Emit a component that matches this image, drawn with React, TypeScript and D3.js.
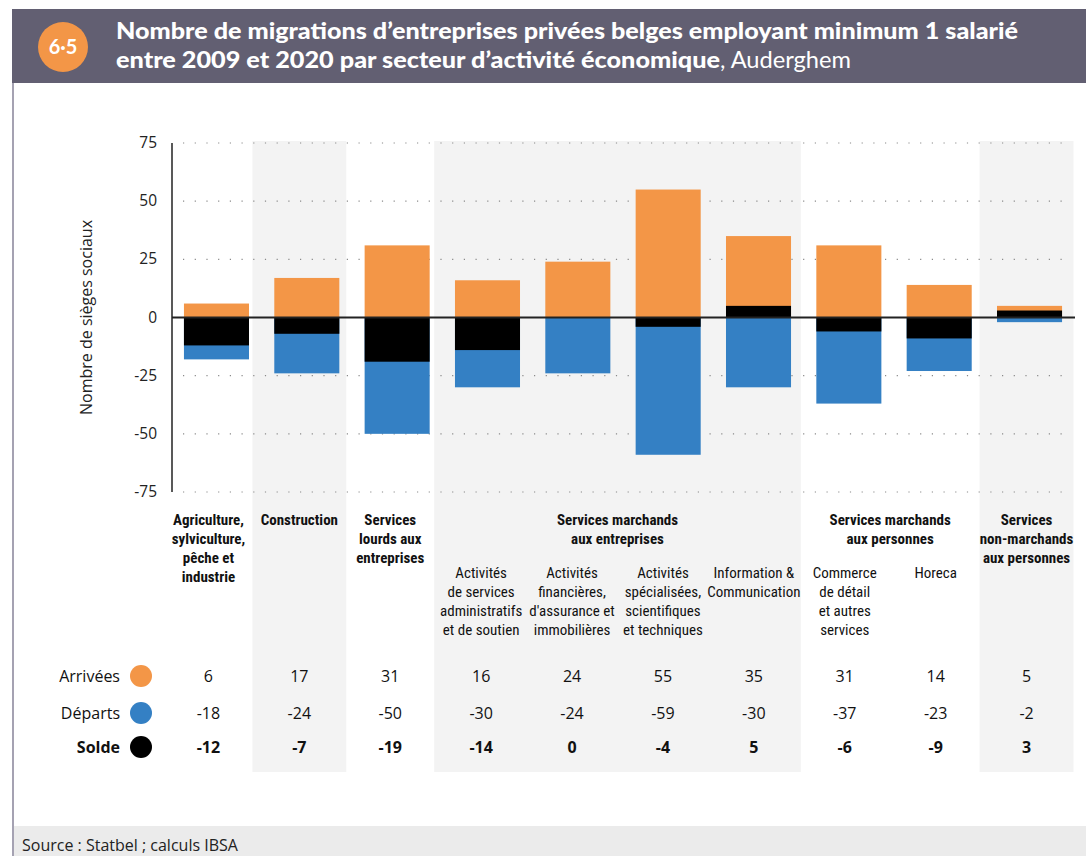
import React from "react";
import * as d3 from "d3";

// data (Auderghem, 2009-2020)
const categories = [
  "agri", "construction", "lourds", "admin", "finance",
  "specialisees", "info", "commerce", "horeca", "nonmarchands",
];
const topLabels = [
  ["Agriculture,", "sylviculture,", "pêche et", "industrie"],
  ["Construction"],
  ["Services", "lourds aux", "entreprises"],
  [], [], [], [], [], [],
  ["Services", "non-marchands", "aux personnes"],
];
const subLabels = [
  [], [], [],
  ["Activités", "de services", "administratifs", "et de soutien"],
  ["Activités", "financières,", "d'assurance et", "immobilières"],
  ["Activités", "spécialisées,", "scientifiques", "et techniques"],
  ["Information &", "Communication"],
  ["Commerce", "de détail", "et autres", "services"],
  ["Horeca"],
  [],
];
const groups = [
  { from: 3, to: 6, lines: ["Services marchands", "aux entreprises"] },
  { from: 7, to: 8, lines: ["Services marchands", "aux personnes"] },
];
const arrivees = [6, 17, 31, 16, 24, 55, 35, 31, 14, 5];
const departs = [-18, -24, -50, -30, -24, -59, -30, -37, -23, -2];
const solde = [-12, -7, -19, -14, 0, -4, 5, -6, -9, 3];
const yTicks = [75, 50, 25, 0, -25, -50, -75];
const shaded = [1, 3, 4, 5, 6, 9];

const ORANGE = "#f39647";
const BLUE = "#3480c4";
const SHADE = "#f3f3f3";
const COND = "'Liberation Sans Narrow', 'Roboto Condensed', 'DejaVu Sans Condensed', 'Open Sans', sans-serif";
const SANS = "'Open Sans', 'Noto Sans', sans-serif";

const App = () => {
  const width = 1086, height = 856;
  // bars sit a little right of the label columns in the original
  const x = d3.scaleBand().domain(categories).range([171.3, 1074.7]).paddingInner(0.28).paddingOuter(0.14);
  const xCol = d3.scaleBand().domain(categories).range([163, 1072]).padding(0);
  const y = d3.scaleLinear().domain([-75, 75]).range([492, 143]);
  const cx = (c) => xCol(c) + xCol.bandwidth() / 2;

  const bar = (vals, fill) =>
    categories.map((c, i) => (
      <rect key={fill + c} x={x(c)} width={x.bandwidth()}
        y={Math.min(y(vals[i]), y(0))} height={Math.abs(y(vals[i]) - y(0))} fill={fill} />
    ));

  const rows = [
    { label: "Arrivées", vals: arrivees, color: ORANGE, bold: false, yy: 676 },
    { label: "Départs", vals: departs, color: BLUE, bold: false, yy: 713 },
    { label: "Solde", vals: solde, color: "#000", bold: true, yy: 747 },
  ];

  return (
    <svg width={width} height={height} style={{ position: "absolute", left: 0, top: 0, background: "#fff" }}>
      {/* frame */}
      <rect x={12} y={9} width={width - 12} height={74} fill="#625f72" />
      <line x1={13} x2={13} y1={83} y2={856} stroke="#a5a2b2" strokeWidth={2} />
      <rect x={14} y={826} width={width - 14} height={30} fill="#ebebeb" />
      <text x={22} y={851} fontFamily={SANS} fontSize={16} fill="#222">Source : Statbel ; calculs IBSA</text>

      {/* title */}
      <circle cx={63} cy={47} r={25} fill={ORANGE} />
      <text x={63} y={54} textAnchor="middle" fontFamily="Lato, sans-serif" fontWeight="bold" fontSize={20} fill="#fff">6·5</text>
      <text x={116} y={39} fontFamily="Lato, sans-serif" fontWeight="900" fontSize={23} fill="#fff"
        textLength={902} lengthAdjust="spacingAndGlyphs">Nombre de migrations d’entreprises privées belges employant minimum 1 salarié</text>
      <text x={116} y={68} fontFamily="Lato, sans-serif" fontWeight="900" fontSize={23} fill="#fff"
        textLength={604} lengthAdjust="spacingAndGlyphs">entre 2009 et 2020 par secteur d’activité économique</text>
      <text x={720} y={68} fontFamily="Lato, sans-serif" fontSize={23} fill="#fff"
        textLength={131} lengthAdjust="spacingAndGlyphs">, Auderghem</text>

      {/* shaded columns */}
      {shaded.map((i) => (
        <rect key={"s" + i} x={xCol(categories[i]) - 1.5} width={xCol.bandwidth() + 3} y={141} height={631} fill={SHADE} />
      ))}

      {/* dotted grid */}
      {yTicks.filter((t) => t !== 0).map((t) => (
        <line key={"g" + t} x1={183} x2={1070} y1={y(t)} y2={y(t)} stroke="#8a8a8a" strokeWidth={1.2} strokeDasharray="1.2 10.5" />
      ))}

      {/* bars */}
      {bar(arrivees, ORANGE)}
      {bar(departs, BLUE)}
      {bar(solde, "#000")}

      {/* axes */}
      <line x1={172} x2={172} y1={143} y2={492} stroke="#222" strokeWidth={1.5} />
      <line x1={172} x2={1075} y1={y(0)} y2={y(0)} stroke="#222" strokeWidth={2} />
      {yTicks.map((t) => (
        <text key={"t" + t} x={157} y={y(t) + 5} textAnchor="end" fontFamily={SANS} fontSize={15.5} fill="#222">{t}</text>
      ))}
      <text transform={`translate(92,${y(0)}) rotate(-90)`} textAnchor="middle" fontFamily={SANS} fontSize={16} fill="#222">Nombre de sièges sociaux</text>

      {/* category labels */}
      {categories.map((c, i) => (
        <g key={"l" + c}>
          {topLabels[i].map((s, k) => (
            <text key={k} x={cx(c)} y={525 + k * 19} textAnchor="middle" fontFamily={COND} fontWeight="bold" fontSize={15} fill="#111">{s}</text>
          ))}
          {subLabels[i].map((s, k) => (
            <text key={k} x={cx(c)} y={578 + k * 19} textAnchor="middle" fontFamily={COND} fontSize={15} fill="#111">{s}</text>
          ))}
        </g>
      ))}
      {groups.map((g) => {
        const gx = (cx(categories[g.from]) + cx(categories[g.to])) / 2;
        return g.lines.map((s, k) => (
          <text key={g.from + "-" + k} x={gx} y={525 + k * 19} textAnchor="middle" fontFamily={COND} fontWeight="bold" fontSize={15} fill="#111">{s}</text>
        ));
      })}

      {/* value table */}
      {rows.map((r) => (
        <g key={r.label}>
          <text x={120} y={r.yy + 6} textAnchor="end" fontFamily={SANS} fontSize={16} fontWeight={r.bold ? "bold" : "normal"} fill="#111">{r.label}</text>
          <circle cx={141} cy={r.yy} r={11} fill={r.color} />
          {categories.map((c, i) => (
            <text key={c} x={cx(c)} y={r.yy + 6} textAnchor="middle" fontFamily={SANS} fontSize={16} fontWeight={r.bold ? "bold" : "normal"} fill="#111">{r.vals[i]}</text>
          ))}
        </g>
      ))}
    </svg>
  );
};

export default App;
